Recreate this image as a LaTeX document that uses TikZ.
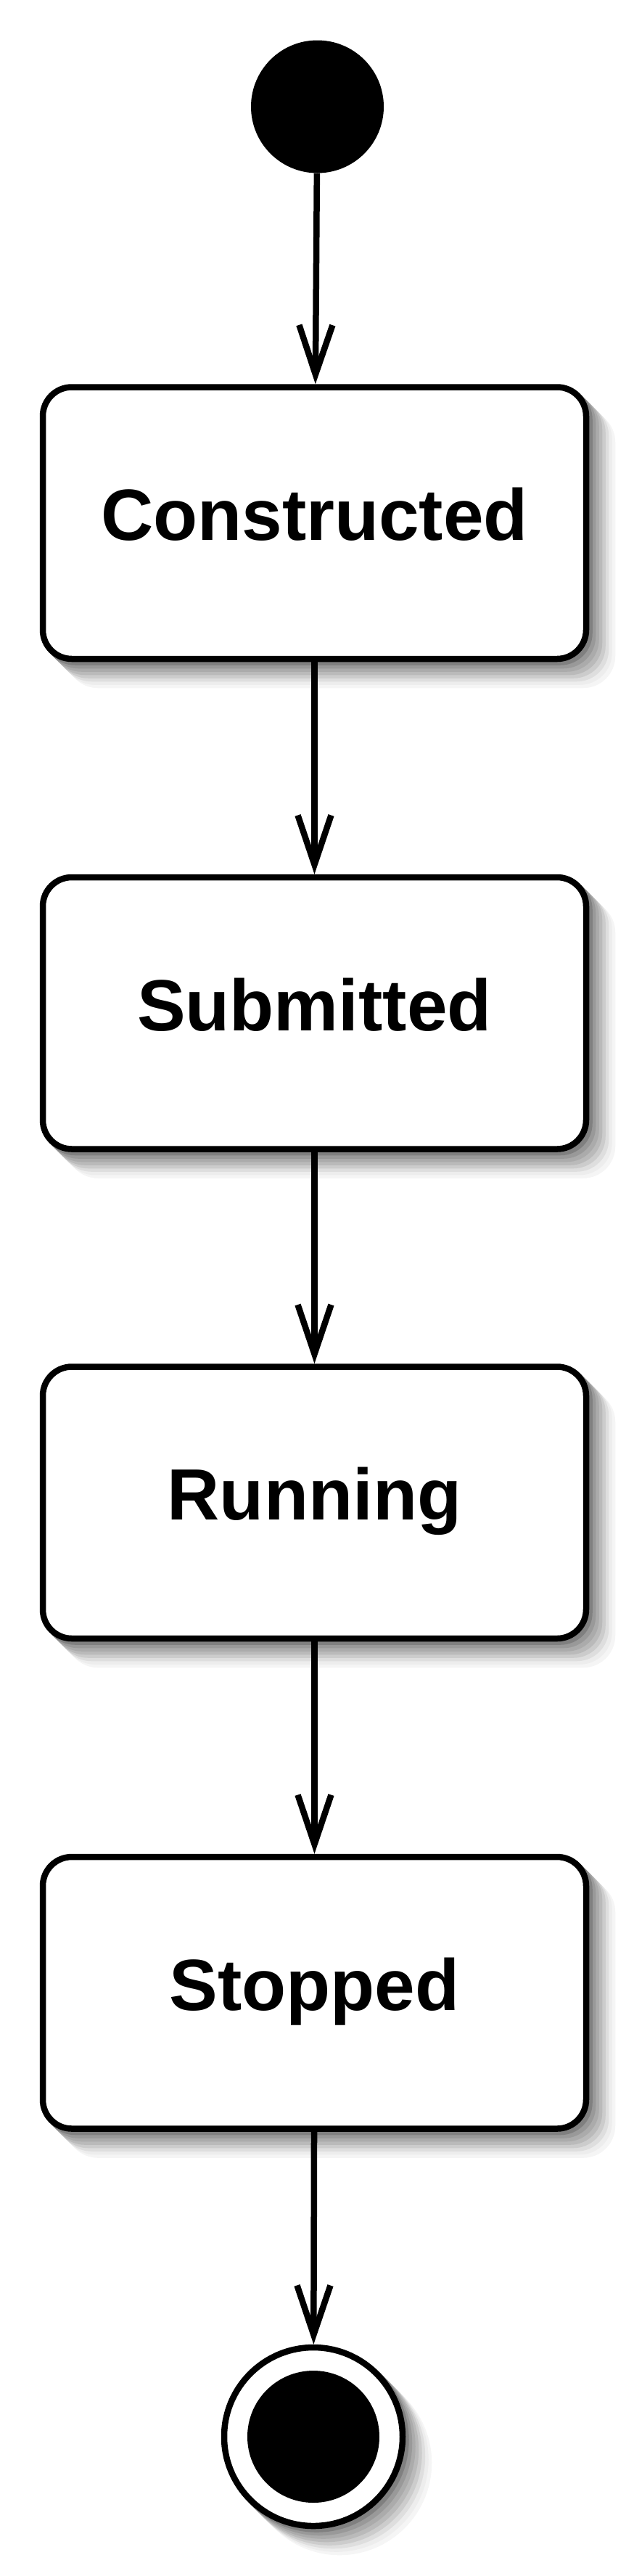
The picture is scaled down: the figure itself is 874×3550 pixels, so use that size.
\documentclass[tikz,border=0pt]{standalone}
\usepackage{fontspec}
\setmainfont{Liberation Sans}
\usetikzlibrary{arrows.meta,shapes.geometric}
\tikzset{
  shlayer/.style 2 args={preaction={draw=black!#2,fill=black!#2,transform canvas={shift={(#1pt,-#1pt)}}}},
  shadowed/.style={shlayer={36}{4},shlayer={31.5}{7},shlayer={27}{13},shlayer={22.5}{20},
                   shlayer={18}{27},shlayer={13.5}{33},shlayer={9}{40},shlayer={4.5}{50}},
  statebox/.style={shadowed,draw=black,fill=white,line width=8.5pt,rectangle,rounded corners=40pt,
                   minimum width=749pt,minimum height=374.5pt,inner sep=0pt,
                   text height=72pt,text depth=24pt,
                   font=\fontsize{100}{120}\selectfont\bfseries},
  conn/.style={line width=8.5pt,-{Straight Barb[length=68pt,width=46pt,line cap=butt,line join=miter]}}
}
\begin{document}
\begin{tikzpicture}[x=1pt,y=-1pt]
\useasboundingbox (0,0) rectangle (874,3550);
\node[circle,fill=black,minimum size=183pt,inner sep=0pt] (start) at (437.5,147) {};
\node[statebox] (c1) at (433.5,720.75) {Constructed};
\node[statebox] (c2) at (433.5,1396.25) {Submitted};
\node[statebox] (c3) at (433.5,2070.75) {Running};
\node[statebox] (c4) at (433.5,2746.25) {Stopped};
\node[circle,shadowed,draw=black,fill=white,line width=8.5pt,minimum size=246pt,inner sep=0pt] (end) at (432,3358) {};
\node[circle,fill=black,minimum size=182pt,inner sep=0pt] (endin) at (end.center) {};
\draw[conn] (start) -- (c1);
\draw[conn] (c1) -- (c2);
\draw[conn] (c2) -- (c3);
\draw[conn] (c3) -- (c4);
\draw[conn] (c4) -- (end);
\end{tikzpicture}
\end{document}
